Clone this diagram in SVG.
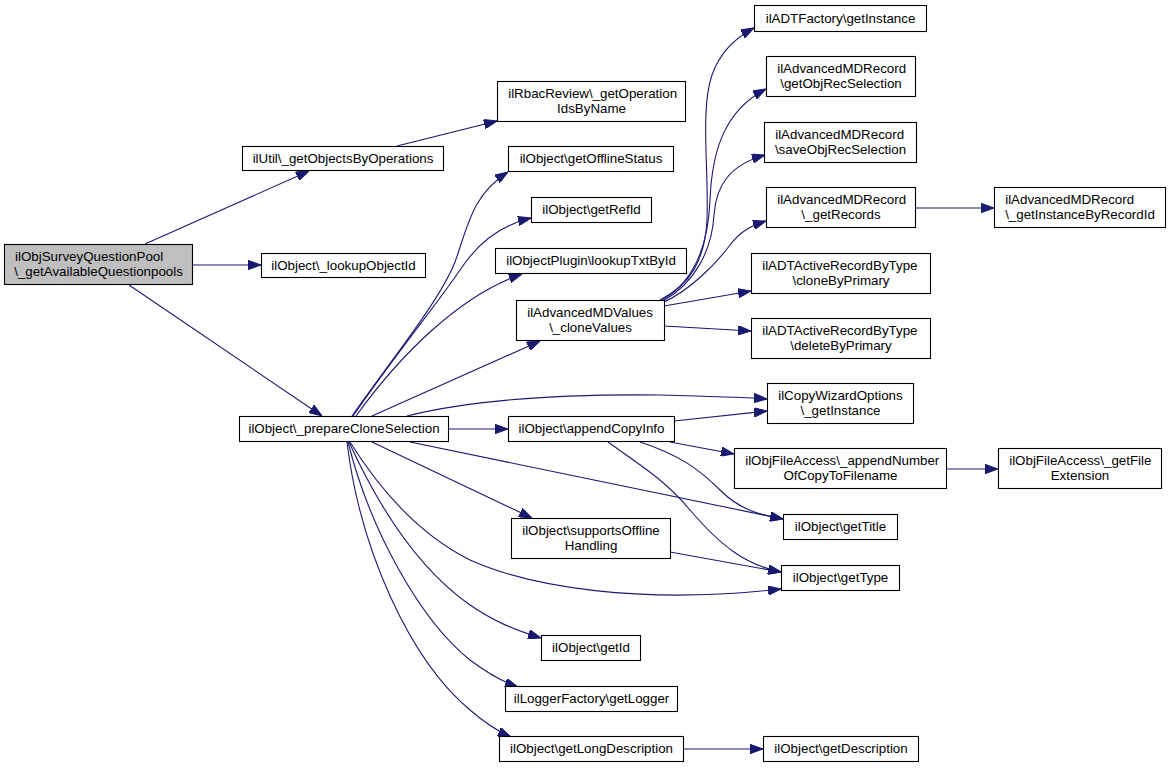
<svg xmlns="http://www.w3.org/2000/svg" width="1171" height="768" viewBox="0 0 1171 768">
<defs>
<style>
.n rect{fill:#ffffff;stroke:#000000;stroke-width:1.1}
.n.root rect{fill:#bfbfbf}
.n text{font-family:"Liberation Sans",Arial,Helvetica,sans-serif;font-size:13.33px;fill:#000000}
.m{text-anchor:middle}
.s{text-anchor:start}
.e path{fill:none;stroke:#191970;stroke-width:1.1;marker-end:url(#ah)}
</style>
<marker id="ah" viewBox="0 0 13 9.4" refX="13" refY="4.7" markerWidth="13" markerHeight="9.4" orient="auto" markerUnits="userSpaceOnUse">
<path d="M0,0 L13,4.7 L0,9.4 z" fill="#191970" stroke="#191970" stroke-width="1"/>
</marker>
</defs>
<rect width="1171" height="768" fill="#ffffff"/>
<g id="edges" class="e">
<path d="M145,244 L309,171"/>
<path d="M193,265 L261,265"/>
<path d="M129,285 L322,416"/>
<path d="M397,146 L497,121"/>
<path d="M352,416 C395,355 440,300 455,262 C468,226 472,195 508,172"/>
<path d="M353,416 C395,355 440,300 460,270 C476,246 497,226 531,218"/>
<path d="M356,416 C400,355 460,295 522,274"/>
<path d="M372,416 L540,341"/>
<path d="M407,416 C470,400 560,394 660,395 C700,396 740,397 767,399"/>
<path d="M448,429 L508,429"/>
<path d="M410,442 L783,519"/>
<path d="M372,442 L532,518"/>
<path d="M350,442 C380,490 420,535 470,560 C530,587 640,605 781,589"/>
<path d="M349,442 C380,510 420,570 470,605 C495,622 515,630 541,638"/>
<path d="M348,442 C370,530 420,620 470,660 C490,675 503,682 518,687"/>
<path d="M347,442 C360,550 410,660 470,710 C485,723 497,731 511,737"/>
<path d="M660,300 C690,285 705,260 707,220 C709,170 700,110 712,75 C720,52 735,38 754,28"/>
<path d="M662,300 C692,283 708,250 710,200 C712,150 725,110 766,89"/>
<path d="M663,301 C695,283 712,250 714,215 C716,185 730,165 765,155"/>
<path d="M664,302 C690,290 715,265 730,245 C740,232 750,226 766,221"/>
<path d="M664,306 L751,291"/>
<path d="M664,326 L751,331"/>
<path d="M915,208 L994,208"/>
<path d="M674,421 L767,411"/>
<path d="M670,442 L734,454"/>
<path d="M640,442 C680,455 700,470 720,490 C740,510 760,515 783,519"/>
<path d="M608,442 C640,465 665,480 690,510 C720,545 745,565 781,572"/>
<path d="M947,469 L998,469"/>
<path d="M670,552 L781,572"/>
<path d="M684,749 L763,749"/>
</g>
<g id="n_root" class="n root"><rect x="4.5" y="244.5" width="188" height="40"/><text class="s" x="15" y="261">ilObjSurveyQuestionPool</text><text class="m" x="98.5" y="275.7">\_getAvailableQuestionpools</text></g>
<g id="n_getObjectsByOperations" class="n"><rect x="242.5" y="146.5" width="201" height="24"/><text class="m" x="343" y="162.5">ilUtil\_getObjectsByOperations</text></g>
<g id="n_getOperationIdsByName" class="n"><rect x="497.5" y="81.5" width="188" height="40"/><text class="s" x="508.2" y="98">ilRbacReview\_getOperation</text><text class="m" x="591.5" y="112.7">IdsByName</text></g>
<g id="n_lookupObjectId" class="n"><rect x="261.5" y="253.5" width="164" height="24"/><text class="m" x="343.5" y="269.5">ilObject\_lookupObjectId</text></g>
<g id="n_prepareCloneSelection" class="n"><rect x="239.5" y="416.5" width="209" height="25"/><text class="m" x="344" y="433">ilObject\_prepareCloneSelection</text></g>
<g id="n_getOfflineStatus" class="n"><rect x="508.5" y="146.5" width="165" height="25"/><text class="m" x="591" y="163">ilObject\getOfflineStatus</text></g>
<g id="n_getRefId" class="n"><rect x="531.5" y="197.5" width="120" height="25"/><text class="m" x="591.5" y="214">ilObject\getRefId</text></g>
<g id="n_lookupTxtById" class="n"><rect x="495.5" y="248.5" width="191" height="25"/><text class="m" x="591" y="265">ilObjectPlugin\lookupTxtById</text></g>
<g id="n_cloneValues" class="n"><rect x="516.5" y="300.5" width="148" height="40"/><text class="s" x="527.2" y="317">ilAdvancedMDValues</text><text class="m" x="590.5" y="331.7">\_cloneValues</text></g>
<g id="n_ADTFactory_getInstance" class="n"><rect x="754.5" y="5.5" width="172" height="26"/><text class="m" x="840.5" y="22.5">ilADTFactory\getInstance</text></g>
<g id="n_getObjRecSelection" class="n"><rect x="766.5" y="56.5" width="149" height="40"/><text class="s" x="777.2" y="73">ilAdvancedMDRecord</text><text class="m" x="841" y="87.7">\getObjRecSelection</text></g>
<g id="n_saveObjRecSelection" class="n"><rect x="764.5" y="122.5" width="152" height="40"/><text class="s" x="775.2" y="139">ilAdvancedMDRecord</text><text class="m" x="840.5" y="153.7">\saveObjRecSelection</text></g>
<g id="n_getRecords" class="n"><rect x="766.5" y="187.5" width="149" height="40"/><text class="s" x="777.2" y="204">ilAdvancedMDRecord</text><text class="m" x="841" y="218.7">\_getRecords</text></g>
<g id="n_getInstanceByRecordId" class="n"><rect x="994.5" y="187.5" width="171" height="40"/><text class="s" x="1005.2" y="204">ilAdvancedMDRecord</text><text class="m" x="1080" y="218.7">\_getInstanceByRecordId</text></g>
<g id="n_cloneByPrimary" class="n"><rect x="751.5" y="253.5" width="179" height="40"/><text class="s" x="762.2" y="270">ilADTActiveRecordByType</text><text class="m" x="841" y="284.7">\cloneByPrimary</text></g>
<g id="n_deleteByPrimary" class="n"><rect x="751.5" y="318.5" width="179" height="40"/><text class="s" x="762.2" y="335">ilADTActiveRecordByType</text><text class="m" x="841" y="349.7">\deleteByPrimary</text></g>
<g id="n_CopyWizardOptions" class="n"><rect x="767.5" y="383.5" width="146" height="40"/><text class="s" x="778.2" y="400">ilCopyWizardOptions</text><text class="m" x="840.5" y="414.7">\_getInstance</text></g>
<g id="n_appendCopyInfo" class="n"><rect x="508.5" y="416.5" width="166" height="25"/><text class="m" x="591.5" y="433">ilObject\appendCopyInfo</text></g>
<g id="n_appendNumberOfCopyToFilename" class="n"><rect x="734.5" y="448.5" width="212" height="40"/><text class="s" x="745.2" y="465">ilObjFileAccess\_appendNumber</text><text class="m" x="840.5" y="479.7">OfCopyToFilename</text></g>
<g id="n_getFileExtension" class="n"><rect x="998.5" y="448.5" width="163" height="40"/><text class="s" x="1009.2" y="465">ilObjFileAccess\_getFile</text><text class="m" x="1080" y="479.7">Extension</text></g>
<g id="n_getTitle" class="n"><rect x="783.5" y="514.5" width="114" height="25"/><text class="m" x="840.5" y="531">ilObject\getTitle</text></g>
<g id="n_supportsOfflineHandling" class="n"><rect x="511.5" y="518.5" width="159" height="40"/><text class="s" x="522.2" y="535">ilObject\supportsOffline</text><text class="m" x="591" y="549.7">Handling</text></g>
<g id="n_getType" class="n"><rect x="781.5" y="565.5" width="118" height="25"/><text class="m" x="840.5" y="582">ilObject\getType</text></g>
<g id="n_getId" class="n"><rect x="541.5" y="635.5" width="99" height="25"/><text class="m" x="591" y="652">ilObject\getId</text></g>
<g id="n_getLogger" class="n"><rect x="505.5" y="686.5" width="172" height="25"/><text class="m" x="591.5" y="703">ilLoggerFactory\getLogger</text></g>
<g id="n_getLongDescription" class="n"><rect x="499.5" y="736.5" width="184" height="25"/><text class="m" x="591.5" y="753">ilObject\getLongDescription</text></g>
<g id="n_getDescription" class="n"><rect x="763.5" y="736.5" width="155" height="25"/><text class="m" x="841" y="753">ilObject\getDescription</text></g>
</svg>
